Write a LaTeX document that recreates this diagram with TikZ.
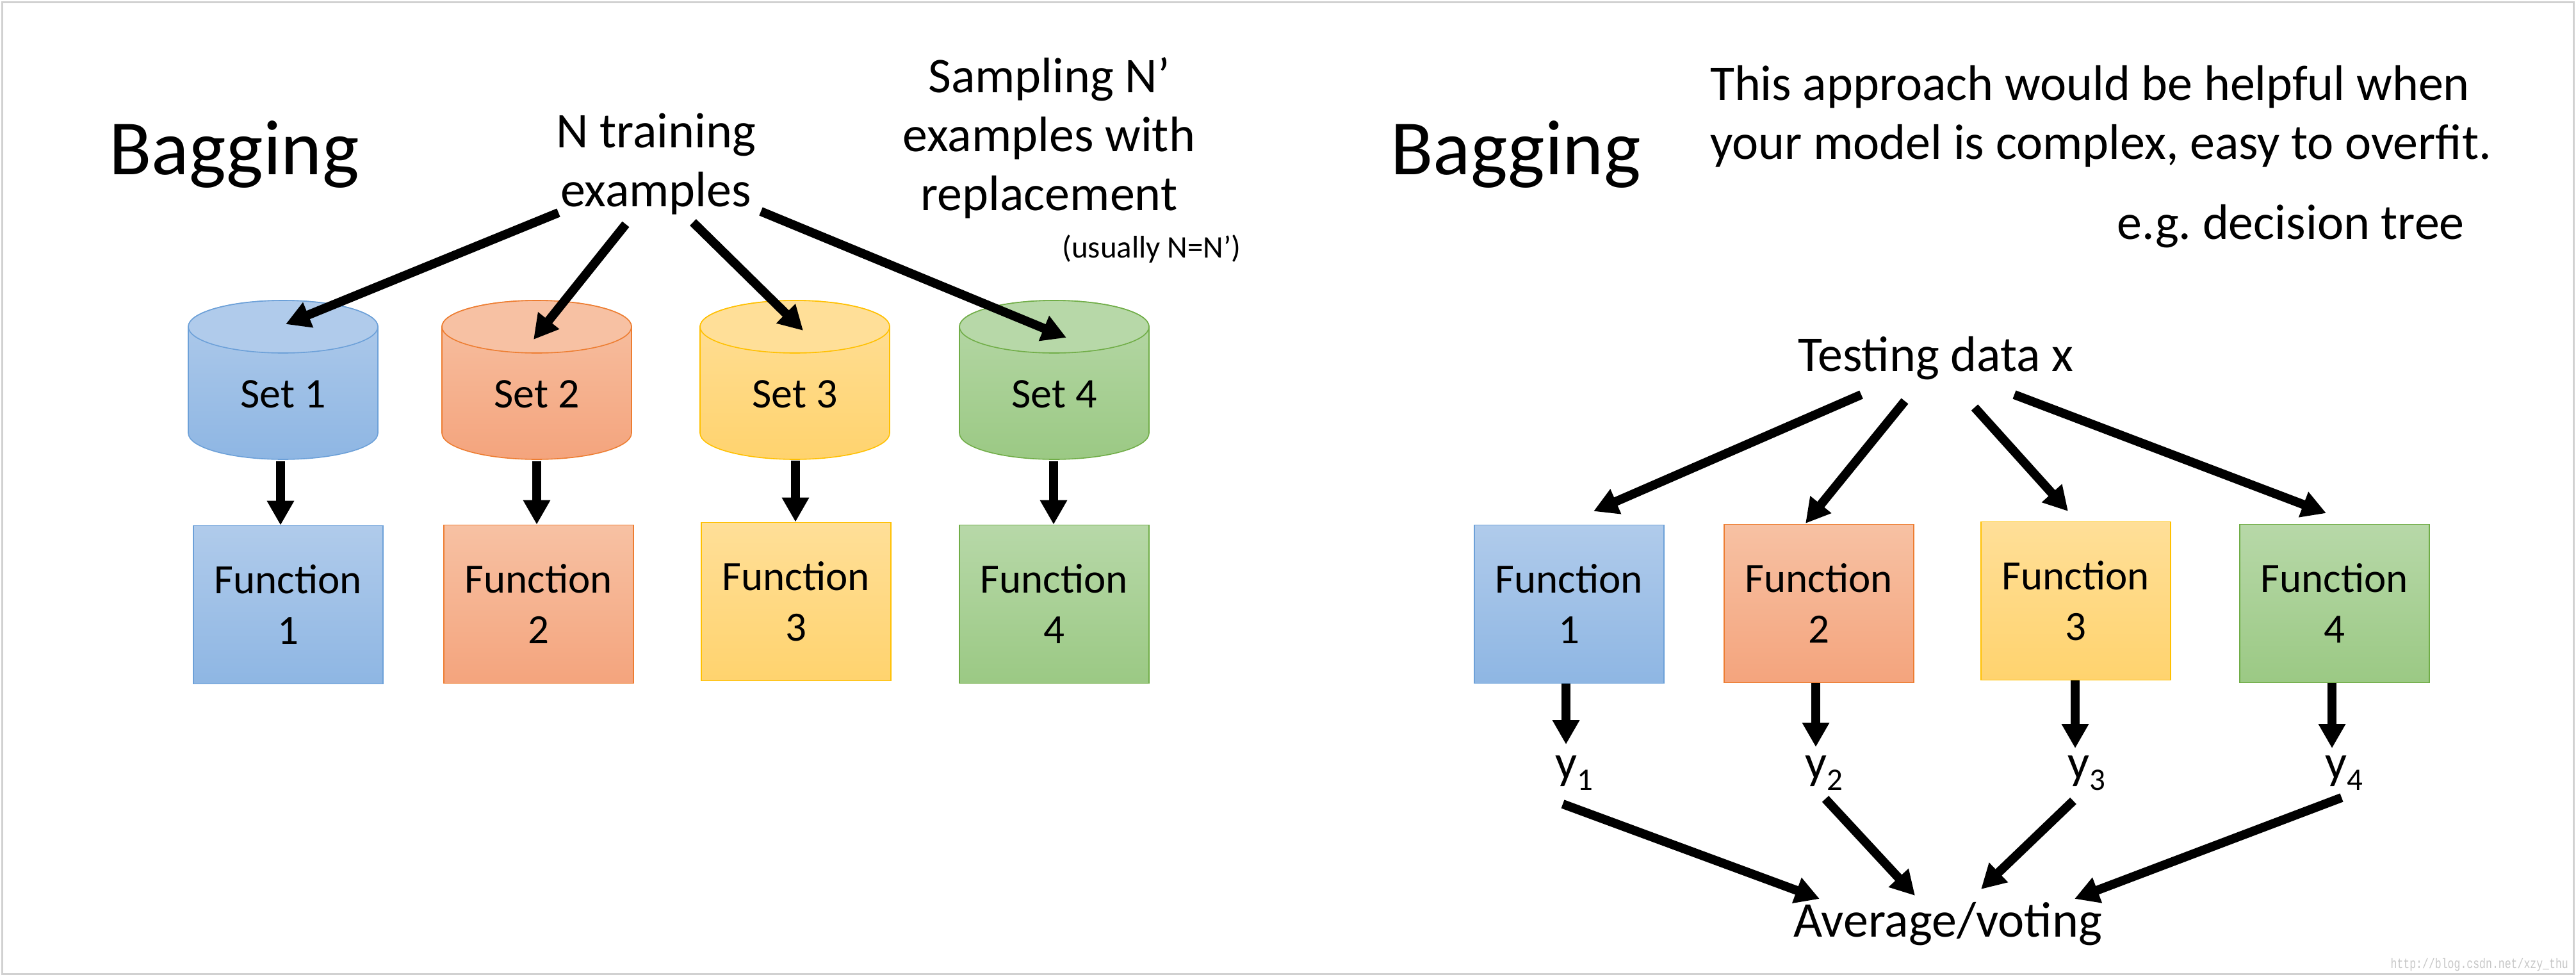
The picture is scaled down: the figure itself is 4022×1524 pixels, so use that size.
\documentclass[tikz,border=0pt]{standalone}
\usepackage{fontspec}
\setmainfont{Carlito}
\newfontfamily\wmfont{Liberation Mono}[FakeStretch=0.75]
\usetikzlibrary{arrows.meta}
\frenchspacing

\definecolor{bluetop}{RGB}{176,203,235}
\definecolor{bluebot}{RGB}{142,182,227}
\definecolor{blueline}{RGB}{108,160,216}
\definecolor{orgtop}{RGB}{247,193,163}
\definecolor{orgbot}{RGB}{244,164,125}
\definecolor{orgline}{RGB}{237,125,49}
\definecolor{yeltop}{RGB}{255,223,152}
\definecolor{yelbot}{RGB}{255,211,110}
\definecolor{yelline}{RGB}{255,192,0}
\definecolor{grntop}{RGB}{183,216,168}
\definecolor{grnbot}{RGB}{155,201,132}
\definecolor{grnline}{RGB}{112,173,71}

% #1 centre x, #2 colour prefix
\newcommand\drawcyl[2]{%
  \path[top color=#2top, bottom color=#2bot, draw=#2line, line width=1.6pt]
    (#1-148,-510) -- (#1-148,-676)
    arc[start angle=180, end angle=360, x radius=148pt, y radius=41pt]
    -- (#1+148,-510)
    arc[start angle=0, end angle=180, x radius=148pt, y radius=41pt] -- cycle;
  \path[fill=#2top, draw=#2line, line width=1.6pt]
    (#1,-510) ellipse[x radius=148pt, y radius=41pt];
}

\begin{document}
\begin{tikzpicture}[x=1pt,y=1pt,
  txt/.style={inner sep=0pt, font=\fontsize{78}{92}\selectfont},
  title/.style={inner sep=0pt, font=\fontsize{122}{146}\selectfont},
  settxt/.style={inner sep=0pt, font=\fontsize{66}{80}\selectfont},
  fn/.style={draw, line width=1.6pt, minimum width=296pt, minimum height=247pt,
    inner sep=0pt, align=center, font=\fontsize{65}{79}\selectfont},
  cblue/.style={top color=bluetop, bottom color=bluebot, draw=blueline},
  corg/.style={top color=orgtop, bottom color=orgbot, draw=orgline},
  cyel/.style={top color=yeltop, bottom color=yelbot, draw=yelline},
  cgrn/.style={top color=grntop, bottom color=grnbot, draw=grnline},
  ylab/.style={inner sep=0pt, font=\fontsize{75}{90}\selectfont},
  arr/.style={line width=14pt, -{Triangle[width=40pt,length=38pt]}},
]
\useasboundingbox (0,0) rectangle (4022,-1524);
\fill[white] (0,0) rectangle (4022,-1524);
\draw[black!18, line width=3pt] (3,-3) rectangle (4018,-1520);

% ---------------- left panel ----------------
\node[title, anchor=base west] (bagL) at (170,-272) {Bagging};
\node[txt, align=center] (ntrain) at (1024,-256) {N training\\examples};
\node[txt, align=center] (sampling) at (1638,-215) {Sampling N’\\examples with\\replacement};
\node[inner sep=0pt, anchor=base, font=\fontsize{49}{58}\selectfont] (usually) at (1798,-402) {(usually N=N’)};

\drawcyl{442}{blue}
\drawcyl{838}{org}
\drawcyl{1241}{yel}
\drawcyl{1646}{grn}
\node[settxt] (set1) at (442,-615) {Set 1};
\node[settxt] (set2) at (838,-615) {Set 2};
\node[settxt] (set3) at (1241,-615) {Set 3};
\node[settxt] (set4) at (1646,-615) {Set 4};

\node[fn, cblue] (f1) at (450,-944) {Function\\1};
\node[fn, corg]  (f2) at (841,-943) {Function\\2};
\node[fn, cyel]  (f3) at (1243,-939) {Function\\3};
\node[fn, cgrn]  (f4) at (1646,-943) {Function\\4};

% arrow ends
\coordinate (na1) at (872,-332);  \coordinate (nt1) at (446,-506);
\coordinate (na2) at (977,-350);  \coordinate (nt2) at (833,-530);
\coordinate (na3) at (1082,-347); \coordinate (nt3) at (1254,-516);
\coordinate (na4) at (1188,-330); \coordinate (nt4) at (1665,-527);
\draw[arr] (na1) -- (nt1);
\draw[arr] (na2) -- (nt2);
\draw[arr] (na3) -- (nt3);
\draw[arr] (na4) -- (nt4);

\coordinate (sb1) at (438,-720);  \coordinate (sb2) at (838,-720);
\coordinate (sb3) at (1242,-719); \coordinate (sb4) at (1645,-720);
\draw[arr] (sb1) -- (sb1 |- f1.north);
\draw[arr] (sb2) -- (sb2 |- f2.north);
\draw[arr] (sb3) -- (sb3 |- f3.north);
\draw[arr] (sb4) -- (sb4 |- f4.north);

% ---------------- right panel ----------------
\node[title, anchor=base west] (bagR) at (2171,-272) {Bagging};
\node[txt, align=left] (approach) at (3280,-182) {This approach would be helpful when\\your model is complex, easy to overfit.};
\node[txt, anchor=base east] (eg) at (3848,-373) {e.g. decision tree};
\node[txt, anchor=base] (test) at (3022,-579) {Testing data x};

\node[fn, cblue] (rf1) at (2450,-943) {Function\\1};
\node[fn, corg]  (rf2) at (2840,-942) {Function\\2};
\node[fn, cyel]  (rf3) at (3241,-938) {Function\\3};
\node[fn, cgrn]  (rf4) at (3645,-942) {Function\\4};

\coordinate (ta1) at (2906,-616); \coordinate (tt1) at (2488,-798);
\coordinate (ta2) at (2974,-626); \coordinate (tt2) at (2819,-817);
\coordinate (ta3) at (3083,-636); \coordinate (tt3) at (3229,-798);
\coordinate (ta4) at (3145,-616); \coordinate (tt4) at (3632,-801);
\draw[arr] (ta1) -- (tt1);
\draw[arr] (ta2) -- (tt2);
\draw[arr] (ta3) -- (tt3);
\draw[arr] (ta4) -- (tt4);

\node[ylab, anchor=base west] (y1) at (2428,-1215) {y\raisebox{-18pt}{\fontsize{49}{58}\selectfont 1}};
\node[ylab, anchor=base west] (y2) at (2818,-1215) {y\raisebox{-18pt}{\fontsize{49}{58}\selectfont 2}};
\node[ylab, anchor=base west] (y3) at (3228,-1215) {y\raisebox{-18pt}{\fontsize{49}{58}\selectfont 3}};
\node[ylab, anchor=base west] (y4) at (3630,-1215) {y\raisebox{-18pt}{\fontsize{49}{58}\selectfont 4}};

\coordinate (fb1) at (2445,-1067); \coordinate (fb2) at (2835,-1066);
\coordinate (fb3) at (3240,-1062); \coordinate (fb4) at (3641,-1066);
\coordinate (yt1) at (2445,-1162); \coordinate (yt2) at (2835,-1166);
\coordinate (yt3) at (3240,-1168); \coordinate (yt4) at (3641,-1168);
\draw[arr] (fb1) -- (yt1);
\draw[arr] (fb2) -- (yt2);
\draw[arr] (fb3) -- (yt3);
\draw[arr] (fb4) -- (yt4);

\node[txt, anchor=base] (avg) at (3041,-1462) {Average/voting};
\coordinate (ya1) at (2440,-1255); \coordinate (at1) at (2841,-1403);
\coordinate (ya2) at (2850,-1247); \coordinate (at2) at (2990,-1398);
\coordinate (ya3) at (3237,-1250); \coordinate (at3) at (3093,-1388);
\coordinate (ya4) at (3656,-1245); \coordinate (at4) at (3239,-1403);
\draw[arr] (ya1) -- (at1);
\draw[arr] (ya2) -- (at2);
\draw[arr] (ya3) -- (at3);
\draw[arr] (ya4) -- (at4);

\node[inner sep=0pt, anchor=base east, text=black!22, font=\wmfont\fontsize{22}{26}\selectfont] (wm) at (4010,-1511) {http://blog.csdn.net/xzy\_thu};
\end{tikzpicture}
\end{document}
